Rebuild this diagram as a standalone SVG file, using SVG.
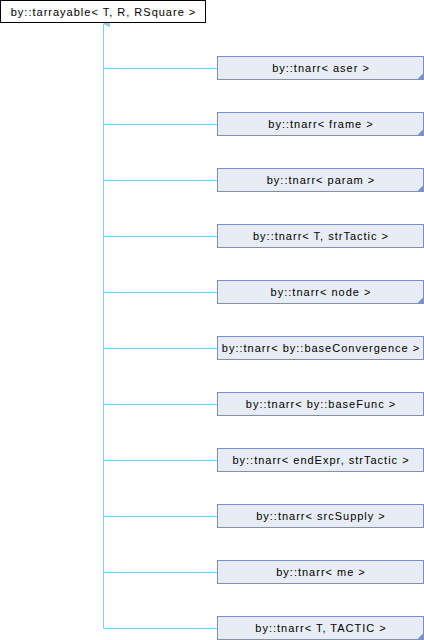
<svg xmlns="http://www.w3.org/2000/svg" width="424" height="640" viewBox="0 0 424 640">
<style>
.t{font-family:"Liberation Sans",Arial,sans-serif;font-size:11px;letter-spacing:1px;fill:#000;text-anchor:middle}
.top{fill:#fff;stroke:#000;stroke-width:1}
.n{fill:#e8ecf5;stroke:#7a8ec8;stroke-width:1}
.c{fill:#7a8ec8}
.e{fill:none;stroke:#90c9e9;stroke-width:1}
</style>
<defs>
<marker id="ah" markerWidth="8" markerHeight="8" refX="4" refY="0" orient="auto" markerUnits="userSpaceOnUse" viewBox="0 0 8 8">
<path d="M4,0 L7,6 L1,6 Z" fill="#90c9e9" stroke="#90c9e9" stroke-width="1"/>
</marker>
</defs>
<g id="connectors">
<path class="e" d="M103.5,628.5 V24"/>
<path class="e" d="M103.5,30 V23.5" marker-end="url(#ah)"/>
<path class="e" d="M103.5,68.5 H217"/>
<path class="e" d="M103.5,124.5 H217"/>
<path class="e" d="M103.5,180.5 H217"/>
<path class="e" d="M103.5,236.5 H217"/>
<path class="e" d="M103.5,292.5 H217"/>
<path class="e" d="M103.5,348.5 H217"/>
<path class="e" d="M103.5,404.5 H217"/>
<path class="e" d="M103.5,460.5 H217"/>
<path class="e" d="M103.5,516.5 H217"/>
<path class="e" d="M103.5,572.5 H217"/>
<path class="e" d="M103.5,628.5 H217"/>
</g>
<g id="node0">
<rect class="top" x="0.5" y="0.5" width="205" height="22"/>
<text class="t" x="103.5" y="15.5">by::tarrayable&lt; T, R, RSquare &gt;</text>
</g>
<g id="node1"><rect class="n" x="217.5" y="56.5" width="206" height="23"/><path class="c" d="M423.5,73 L423.5,79.5 L417,79.5 Z"/><text class="t" x="321" y="72">by::tnarr&lt; aser &gt;</text></g>
<g id="node2"><rect class="n" x="217.5" y="112.5" width="206" height="23"/><path class="c" d="M423.5,129 L423.5,135.5 L417,135.5 Z"/><text class="t" x="321" y="128">by::tnarr&lt; frame &gt;</text></g>
<g id="node3"><rect class="n" x="217.5" y="168.5" width="206" height="23"/><path class="c" d="M423.5,185 L423.5,191.5 L417,191.5 Z"/><text class="t" x="321" y="184">by::tnarr&lt; param &gt;</text></g>
<g id="node4"><rect class="n" x="217.5" y="224.5" width="206" height="23"/><text class="t" x="321" y="240">by::tnarr&lt; T, strTactic &gt;</text></g>
<g id="node5"><rect class="n" x="217.5" y="280.5" width="206" height="23"/><path class="c" d="M423.5,297 L423.5,303.5 L417,303.5 Z"/><text class="t" x="321" y="296">by::tnarr&lt; node &gt;</text></g>
<g id="node6"><rect class="n" x="217.5" y="336.5" width="206" height="23"/><text class="t" x="321" y="352">by::tnarr&lt; by::baseConvergence &gt;</text></g>
<g id="node7"><rect class="n" x="217.5" y="392.5" width="206" height="23"/><text class="t" x="321" y="408">by::tnarr&lt; by::baseFunc &gt;</text></g>
<g id="node8"><rect class="n" x="217.5" y="448.5" width="206" height="23"/><text class="t" x="321" y="464">by::tnarr&lt; endExpr, strTactic &gt;</text></g>
<g id="node9"><rect class="n" x="217.5" y="504.5" width="206" height="23"/><text class="t" x="321" y="520">by::tnarr&lt; srcSupply &gt;</text></g>
<g id="node10"><rect class="n" x="217.5" y="560.5" width="206" height="23"/><text class="t" x="321" y="576">by::tnarr&lt; me &gt;</text></g>
<g id="node11"><rect class="n" x="217.5" y="616.5" width="206" height="23"/><path class="c" d="M423.5,633 L423.5,639.5 L417,639.5 Z"/><text class="t" x="321" y="632">by::tnarr&lt; T, TACTIC &gt;</text></g>
</svg>
